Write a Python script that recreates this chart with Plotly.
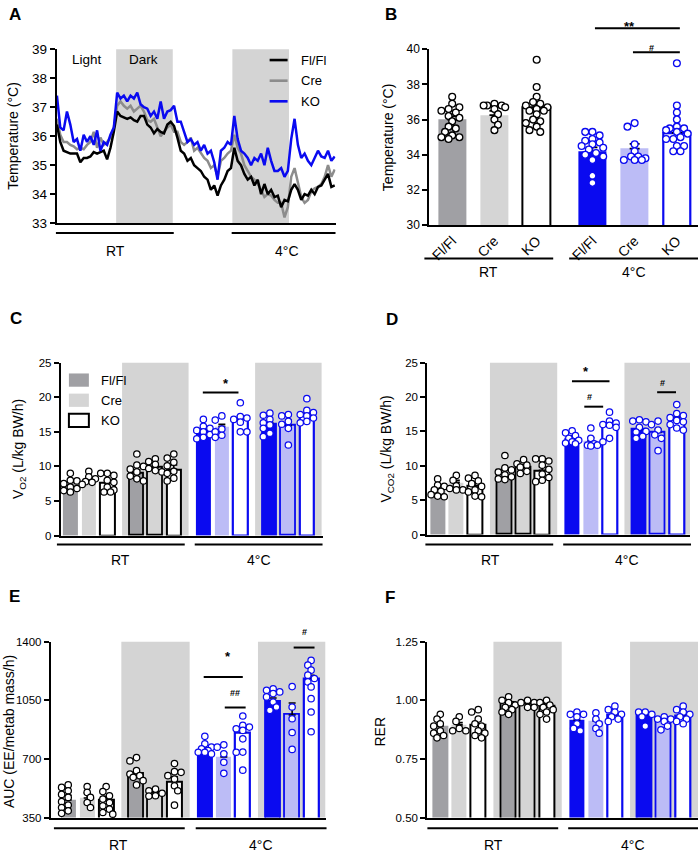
import plotly.graph_objects as go
import numpy as np

W, H = 700, 856
FONT = "Liberation Sans, Arial, Helvetica, sans-serif"
BLUE = "#0a0af0"
LBLUE = "#bcbcf6"
DGRAY = "#a0a0a4"
LGRAY = "#d5d5d5"
SHADE = "#d4d4d4"
GRAYLINE = "#8c8c8c"

# ---------------- data ----------------
genotypes = ["Fl/Fl", "Cre", "KO"]
conditions = ["RT", "4°C"]

# Panel A: core body temperature time course (°C)
a_time_h = np.linspace(0, 58.9, 84)
a_temp_flfl = [36.4, 35.8, 35.5, 35.45, 35.4, 35.4, 35.4, 35.1, 35.25, 35.25,
               35.3, 35.45, 35.4, 35.45, 35.5, 35.2, 35.6, 36.15, 36.85, 36.7,
               36.65, 36.6, 36.65, 36.55, 36.5, 36.7, 36.7, 36.4, 36.3, 36.1,
               36.25, 36.15, 36.1, 36.4, 36.5, 36.35, 35.95, 35.5, 35.4, 35.15,
               35.25, 35.0, 34.9, 34.8, 34.6, 34.5, 34.15, 34.3, 33.95, 34.3,
               34.5, 34.8, 34.9, 35.6, 35.15, 35.0, 34.7, 34.5, 34.6, 34.3,
               34.5, 34.0, 34.35, 34.0, 34.15, 33.9, 33.95, 33.55, 33.8, 33.75,
               34.15, 34.35, 34.15, 33.8, 34.0, 33.95, 34.15, 34.0, 34.25, 34.3,
               34.5, 34.7, 34.25, 34.3]
a_temp_cre = [36.6, 36.05, 35.8, 35.8, 35.7, 35.65, 35.55, 35.6, 35.55, 35.7,
              35.8, 36.15, 35.6, 35.95, 35.7, 35.8, 35.95, 36.3, 37.05, 37.2,
              37.05, 36.95, 37.05, 36.85, 36.95, 37.05, 36.85, 36.55, 36.5, 36.6,
              36.3, 36.0, 36.15, 36.3, 36.4, 36.15, 36.15, 35.8, 35.7, 35.8,
              35.95, 35.5, 35.6, 35.4, 35.25, 35.15, 34.9, 35.0, 34.6, 35.15,
              35.25, 35.4, 35.5, 36.05, 35.6, 35.4, 35.0, 34.8, 34.6, 34.5,
              34.35, 34.15, 33.9, 34.0, 33.95, 33.8, 33.7, 33.7, 33.2, 33.55,
              34.6, 34.9, 34.35, 33.9, 33.7, 33.8, 34.1, 34.2, 34.25, 34.35,
              34.6, 35.0, 34.6, 34.85]
a_temp_ko = [37.4, 36.3, 36.2, 36.85, 36.4, 35.8, 35.9, 35.5, 36.05, 35.8,
             36.0, 35.7, 36.2, 35.5, 35.8, 35.7, 36.05, 36.3, 37.5, 37.3,
             37.4, 37.2, 37.4, 37.3, 37.5, 37.1, 37.0, 36.95, 36.7, 36.85,
             36.6, 37.2, 36.6, 36.85, 36.9, 37.05, 36.5, 36.5, 36.15, 35.8,
             35.9, 35.7, 35.8, 35.5, 35.7, 35.4, 35.5, 35.1, 34.5, 35.5,
             35.6, 35.8, 35.7, 36.7, 35.9, 35.5, 35.4, 35.25, 35.0, 35.25,
             35.15, 35.4, 35.0, 35.6, 35.15, 34.8, 34.8, 34.9, 34.6, 34.8,
             35.9, 36.6, 35.7, 35.25, 35.4, 35.15, 35.0, 35.25, 35.5, 35.3,
             35.25, 35.5, 35.15, 35.3]
a_dark_periods_h = [(12.56, 24.56), (37.2, 49.2)]

# Panel B: temperature (°C), order RT Fl/Fl, Cre, KO, 4°C Fl/Fl, Cre, KO
b_mean = [36.0, 36.25, 36.7, 34.2, 34.35, 35.25]
b_sem = [0.18, 0.25, 0.15, 0.22, 0.27, 0.33]
b_dots = [
    [37.3, 36.9, 36.7, 36.6, 36.5, 36.4, 36.2, 36.1, 35.9, 35.6, 35.5, 35.3, 35.1, 35.0, 35.0, 34.9],
    [36.9, 36.8, 36.8, 36.8, 36.7, 36.6, 36.3, 36.0, 35.7, 35.4],
    [39.4, 37.85, 37.3, 37.0, 36.9, 36.8, 36.7, 36.6, 36.5, 36.5, 36.3, 36.0, 35.9, 35.8, 35.6, 35.4, 35.3],
    [35.3, 35.3, 35.1, 34.9, 34.8, 34.7, 34.6, 34.5, 34.4, 34.3, 34.1, 34.0, 33.9, 33.7, 32.8, 32.4],
    [35.8, 35.6, 34.6, 34.2, 33.9, 33.9, 33.8, 33.7, 33.7, 33.7],
    [39.2, 36.8, 36.4, 36.0, 35.6, 35.5, 35.5, 35.4, 35.3, 35.2, 35.0, 34.9, 34.9, 34.5, 34.5, 34.2, 34.2],
]

# Panels C-F: 12 bars = [RT light, RT dark, 4°C light, 4°C dark] x [Fl/Fl, Cre, KO]
c_mean = [7.7, 8.2, 7.6, 8.9, 9.85, 9.6, 15.3, 15.8, 16.9, 16.0, 15.9, 17.3]
c_sem = [0.4, 0.3, 0.4, 0.6, 0.35, 0.6, 0.3, 0.3, 0.4, 0.3, 0.8, 0.4]
c_dots = [
    [9.0, 8.0, 7.9, 7.5, 7.0, 6.8, 6.5, 6.3],
    [9.3, 8.5, 8.2, 7.8, 7.7, 7.4],
    [9.0, 9.0, 8.7, 8.0, 7.7, 7.0, 6.6, 6.3, 6.3],
    [11.8, 10.2, 10.0, 9.6, 9.2, 8.6, 8.2, 7.9],
    [11.1, 10.7, 10.3, 9.7, 9.4, 9.2],
    [11.8, 11.2, 10.6, 10.1, 9.3, 9.0, 8.3, 7.9],
    [16.8, 15.8, 15.5, 15.2, 15.0, 14.6, 14.2, 14.0],
    [17.3, 16.7, 15.4, 15.0, 14.5, 14.2],
    [19.2, 17.2, 17.0, 16.8, 16.4, 15.0, 15.0],
    [17.7, 17.4, 16.8, 16.3, 16.0, 15.5, 14.8, 14.3],
    [17.5, 17.3, 16.5, 16.1, 15.5, 13.1],
    [19.8, 18.1, 17.8, 17.5, 17.3, 17.0, 16.5, 16.3],
]
d_mean = [6.7, 7.6, 7.1, 9.35, 9.7, 9.35, 14.1, 13.65, 16.0, 15.3, 14.85, 16.75]
d_sem = [0.35, 0.3, 0.4, 0.35, 0.45, 0.5, 0.25, 0.45, 0.35, 0.35, 0.45, 0.35]
d_dots = [
    [8.1, 7.2, 7.0, 6.5, 6.3, 5.8, 5.6, 5.5],
    [8.6, 7.9, 7.1, 6.7, 6.5, 6.5],
    [8.6, 8.2, 7.8, 7.4, 7.0, 6.5, 6.2, 5.6, 5.5],
    [11.5, 9.7, 9.4, 9.1, 8.7, 8.4, 8.1, 8.0],
    [10.9, 10.3, 10.1, 9.8, 9.2, 8.9],
    [11.0, 11.0, 10.7, 10.1, 9.5, 8.8, 8.3, 7.9, 7.7],
    [15.1, 14.8, 14.4, 14.0, 13.7, 13.5, 13.3, 13.2],
    [15.5, 14.0, 13.2, 13.0, 13.0, 12.9],
    [17.8, 16.5, 16.2, 16.0, 15.9, 15.6, 14.0, 13.5],
    [16.7, 16.5, 16.4, 15.6, 15.0, 14.9, 14.3, 14.0],
    [16.5, 16.0, 15.2, 14.5, 14.0, 12.2],
    [18.9, 17.6, 17.3, 17.0, 16.6, 16.4, 16.0, 15.5, 15.2],
]
e_mean = [455, 467, 457, 614, 497, 565, 755, 712, 858, 1044, 962, 1181]
e_sem = [28, 30, 20, 23, 9, 29, 10, 23, 20, 20, 72, 19]
e_dots = [
    [545, 530, 510, 488, 470, 445, 425, 410, 390, 375],
    [535, 500, 470, 440, 410],
    [535, 505, 480, 460, 440, 420, 400, 380, 370],
    [708, 688, 630, 610, 600, 590, 570, 545],
    [520, 510, 495, 480, 478],
    [672, 624, 620, 600, 580, 540, 510, 424],
    [835, 790, 770, 760, 750, 740, 740, 730],
    [784, 770, 731, 680, 614],
    [956, 900, 890, 880, 870, 820, 741, 740, 633],
    [1118, 1110, 1100, 1090, 1070, 1040, 1010, 990],
    [1132, 1010, 940, 858, 757],
    [1288, 1260, 1230, 1200, 1180, 1160, 1130, 1060, 980, 862],
]
f_mean = [0.891, 0.895, 0.898, 0.989, 0.985, 0.975, 0.916, 0.912, 0.937, 0.94, 0.923, 0.933]
f_sem = [0.01, 0.01, 0.014, 0.008, 0.01, 0.013, 0.015, 0.004, 0.007, 0.007, 0.006, 0.02]
f_dots = [
    [0.94, 0.92, 0.90, 0.89, 0.87, 0.86, 0.85, 0.84],
    [0.93, 0.91, 0.88, 0.87, 0.87],
    [0.96, 0.95, 0.92, 0.90, 0.89, 0.87, 0.86, 0.85, 0.84],
    [1.015, 1.00, 0.99, 0.98, 0.97, 0.96, 0.95, 0.94],
    [1.00, 0.99, 0.99, 0.97, 0.97],
    [1.00, 0.99, 0.98, 0.97, 0.96, 0.95, 0.94, 0.92],
    [0.95, 0.94, 0.94, 0.93, 0.90, 0.88, 0.87],
    [0.947, 0.92, 0.90, 0.88, 0.86],
    [0.975, 0.96, 0.95, 0.94, 0.93, 0.92, 0.91],
    [0.95, 0.95, 0.94, 0.93, 0.89],
    [0.93, 0.92, 0.92, 0.91, 0.89, 0.874],
    [0.975, 0.96, 0.95, 0.94, 0.93, 0.92, 0.91, 0.90],
]

# ---------------- figure ----------------
fig = go.Figure()
GEOM = {}


def ax_names(i):
    s = "" if i == 1 else str(i)
    return "x" + s, "y" + s, "xaxis" + s, "yaxis" + s


def set_axes(i, xd, yd, xr, yr, yticks, ytext=None, tickfont=11.5):
    GEOM[i] = (xd, yd, xr, yr)
    xa, ya, xn, yn = ax_names(i)
    fig.layout[xn] = dict(domain=[xd[0] / W, xd[1] / W], range=xr, anchor=ya,
                          showline=True, linecolor="black", linewidth=2.2,
                          showgrid=False, zeroline=False, ticks="",
                          showticklabels=False, fixedrange=True)
    fig.layout[yn] = dict(domain=[1 - yd[1] / H, 1 - yd[0] / H], range=yr, anchor=xa,
                          showline=True, linecolor="black", linewidth=2.2,
                          showgrid=False, zeroline=False, ticks="outside",
                          ticklen=5, tickwidth=1.6, tickcolor="black",
                          tickvals=yticks, ticktext=ytext,
                          tickfont=dict(size=tickfont, family=FONT, color="black"),
                          fixedrange=True)


def d2p(i, x, y):
    """data coordinates of panel i -> paper coordinates"""
    xd, yd, xr, yr = GEOM[i]
    xp = xd[0] + (x - xr[0]) / (xr[1] - xr[0]) * (xd[1] - xd[0])
    yp = yd[1] - (y - yr[0]) / (yr[1] - yr[0]) * (yd[1] - yd[0])
    return xp / W, 1 - yp / H


def ann(text, x, y, size=14, bold=False, angle=0, xanchor="center", yanchor="middle"):
    if bold:
        text = "<b>" + text + "</b>"
    fig.add_annotation(text=text, x=x / W, y=1 - y / H, xref="paper", yref="paper",
                       showarrow=False, textangle=angle, xanchor=xanchor, yanchor=yanchor,
                       font=dict(size=size, family=FONT, color="black"))


def hline_px(x0, x1, y, width=2):
    fig.add_shape(type="line", xref="paper", yref="paper", x0=x0 / W, x1=x1 / W,
                  y0=1 - y / H, y1=1 - y / H, line=dict(color="black", width=width))


def swarm(vals, center, xu, yu, d, maxoff):
    vals = list(vals)
    order = sorted(range(len(vals)), key=lambda k: -vals[k])
    step = d * 0.5
    cands = [0.0]
    k = 1
    while k * step <= maxoff + 1e-9:
        cands += [k * step, -k * step]
        k += 1
    placed = []
    xs = [0.0] * len(vals)
    flip = 1
    for i in order:
        y = vals[i] * yu
        best, bestd = None, -1
        cc = cands if flip > 0 else [cands[0]] + [c * -1 for c in cands[1:]]
        for off in cc:
            md = min([np.hypot(off - px, y - py) for px, py in placed] + [99])
            if md >= d * 0.85:
                best = off
                break
            if md > bestd:
                best, bestd = off, md
        flip = -flip
        placed.append((best, y))
        xs[i] = center + best / xu
    return xs


def sig(i, x0, x1, y, text, ty, size):
    p0 = d2p(i, x0, y)
    p1 = d2p(i, x1, y)
    fig.add_shape(type="line", xref="paper", yref="paper", x0=p0[0], x1=p1[0],
                  y0=p0[1], y1=p1[1], line=dict(color="black", width=2))
    pt = d2p(i, (x0 + x1) / 2, ty)
    fig.add_annotation(x=pt[0], y=pt[1], xref="paper", yref="paper", text="<b>" + text + "</b>",
                       showarrow=False, font=dict(size=size, family=FONT, color="black"))


# ---------- Panel A ----------
A_xd, A_yd = (56, 335), (43, 220)
A_xr, A_yr = [0, 59.07], [33, 39]
set_axes(1, A_xd, A_yd, A_xr, A_yr, list(range(33, 40)), tickfont=13.5)
for (t0, t1) in a_dark_periods_h:
    fig.add_shape(type="rect", xref="x", yref="y domain", x0=t0, x1=t1, y0=0, y1=1,
                  fillcolor=SHADE, line=dict(width=0), layer="below")
for series, col in [(a_temp_cre, GRAYLINE), (a_temp_flfl, "black"), (a_temp_ko, BLUE)]:
    fig.add_trace(go.Scatter(x=a_time_h, y=series, mode="lines", xaxis="x", yaxis="y",
                             line=dict(color=col, width=2.5), hoverinfo="skip"))
ann("Light", 86, 53, size=13.5)
ann("Dark", 143, 53, size=13.5)
for k, (name, col) in enumerate(zip(genotypes, ["black", GRAYLINE, BLUE])):
    yy = 54 + k * 21
    fig.add_shape(type="line", xref="paper", yref="paper", x0=269 / W, x1=287 / W,
                  y0=1 - yy / H, y1=1 - yy / H, line=dict(color=col, width=2.6))
    ann(name, 298, yy, size=13, xanchor="left")
ann("Temperature (°C)", 12, 131, size=14, angle=-90)
hline_px(55, 173, 230)
hline_px(231, 335, 230)
ann("RT", 115, 248, size=14)
ann("4°C", 286, 248, size=14)
ann("A", 14, 8, size=17, bold=True)

# ---------- Panel B ----------
B_xd, B_yd = (429, 698), (43, 222)
B_xr, B_yr = [-0.54, 5.82], [30, 40]
b_pos = [0, 1, 2, 3.32, 4.32, 5.32]
set_axes(2, B_xd, B_yd, B_xr, B_yr, list(range(30, 41, 2)), tickfont=12)
fig.layout.xaxis2.update(showticklabels=True, tickvals=b_pos, ticktext=genotypes * 2,
                         tickangle=-45, tickfont=dict(size=14, family=FONT, color="black"))
b_fill = [DGRAY, LGRAY, "white", BLUE, LBLUE, "white"]
b_lw = [0, 0, 2, 0, 0, 2.2]
b_lc = ["black", "black", "black", BLUE, BLUE, BLUE]
fig.add_trace(go.Bar(x=b_pos, y=b_mean, width=0.66, xaxis="x2", yaxis="y2",
                     marker=dict(color=b_fill, line=dict(color=b_lc, width=b_lw)),
                     error_y=dict(type="data", array=b_sem, arrayminus=[0] * 6, symmetric=False,
                                  color="black", thickness=1.7, width=5),
                     hoverinfo="skip"))
bxu = (B_xd[1] - B_xd[0]) / (B_xr[1] - B_xr[0])
byu = (B_yd[1] - B_yd[0]) / (B_yr[1] - B_yr[0])
for k in range(6):
    xs = swarm(b_dots[k], b_pos[k], bxu, byu, d=7.2, maxoff=14)
    fig.add_trace(go.Scatter(x=xs, y=b_dots[k], mode="markers", xaxis="x2", yaxis="y2",
                             marker=dict(size=6.8, color="white",
                                         line=dict(color="black" if k < 3 else BLUE, width=1.3)),
                             hoverinfo="skip", cliponaxis=False))
sig(2, 3.38, 5.39, 41.2, "**", 41.85, 13)
sig(2, 4.28, 5.39, 39.83, "#", 40.45, 9)
ann("Temperature (°C)", 387, 132, size=14, angle=-90)
hline_px(424, 553, 256)
hline_px(569, 698, 256)
ann("RT", 488, 270, size=14)
ann("4°C", 634, 270, size=14)
ann("B", 391, 8, size=17, bold=True)

# ---------- Panels C-F ----------
pos12 = [3.6 * g + b for g in range(4) for b in range(3)]
fill12 = [DGRAY, LGRAY, "white"] * 2 + [BLUE, LBLUE, "white"] * 2
lw12 = [0, 0, 2, 1.8, 1.8, 2, 0, 0, 2.2, 1.8, 1.8, 2.2]
lc12 = ["black"] * 6 + [BLUE] * 6


def bar_panel(i, xd, yd, xr, yr, yticks, ytext, mean, sem, dots):
    set_axes(i, xd, yd, xr, yr, yticks, ytext, tickfont=11.5)
    xa, ya, _, _ = ax_names(i)
    for g in (1, 3):
        c = 3.6 * g + 1
        fig.add_shape(type="rect", xref=xa, yref=ya + " domain", x0=c - 1.8,
                      x1=min(c + 1.8, xr[1]), y0=0, y1=1, fillcolor=SHADE,
                      line=dict(width=0), layer="below")
    fig.add_trace(go.Bar(x=pos12, y=mean, width=0.8, xaxis=xa, yaxis=ya,
                         marker=dict(color=fill12, line=dict(color=lc12, width=lw12)),
                         error_y=dict(type="data", array=sem, arrayminus=[0] * 12,
                                      symmetric=False, color="black", thickness=1.6, width=3.5),
                         hoverinfo="skip"))
    xu = (xd[1] - xd[0]) / (xr[1] - xr[0])
    yu = (yd[1] - yd[0]) / (yr[1] - yr[0])
    for k in range(12):
        xs = swarm(dots[k], pos12[k], xu, yu, d=6.6, maxoff=7.5)
        fig.add_trace(go.Scatter(x=xs, y=dots[k], mode="markers", xaxis=xa, yaxis=ya,
                                 marker=dict(size=6.4, color="white",
                                             line=dict(color="black" if k < 6 else BLUE, width=1.25)),
                                 hoverinfo="skip", cliponaxis=False))


# C
bar_panel(3, (60, 322), (362, 538), [-0.51, 13.65], [0, 25], [0, 5, 10, 15, 20, 25], None,
          c_mean, c_sem, c_dots)
sig(3, 7.17, 9.1, 20.7, "*", 22.0, 13)
for k, (name, fc) in enumerate(zip(genotypes, [DGRAY, LGRAY, "white"])):
    y0 = 373 + k * 20.5
    fig.add_shape(type="rect", xref="paper", yref="paper", x0=68 / W, x1=88 / W,
                  y0=1 - y0 / H, y1=1 - (y0 + 13.5) / H, fillcolor=fc,
                  line=dict(color="black", width=2 if k == 2 else 0))
    ann(name, 98, y0 + 7, size=13, xanchor="left")
ann("V<sub>O2</sub> (L/kg BW/h)", 18, 450, size=14, angle=-90)
hline_px(56, 184, 547)
hline_px(194, 322, 547)
ann("RT", 120, 563, size=14)
ann("4°C", 258, 563, size=14)
ann("C", 15, 317, size=17, bold=True)

# D
bar_panel(4, (427, 690), (362, 537), [-0.55, 13.51], [0, 25], [0, 5, 10, 15, 20, 25], None,
          d_mean, d_sem, d_dots)
sig(4, 7.19, 9.2, 22.3, "*", 23.7, 13)
sig(4, 7.85, 8.86, 18.6, "#", 20.0, 9)
sig(4, 11.75, 12.76, 20.7, "#", 22.0, 9)
ann("V<sub>CO2</sub> (L/kg BW/h)", 387, 450, size=14, angle=-90)
hline_px(425, 553, 547)
hline_px(563, 691, 547)
ann("RT", 490, 563, size=14)
ann("4°C", 627, 563, size=14)
ann("D", 392, 318, size=17, bold=True)

# E
bar_panel(5, (50, 325), (646, 825), [-0.91, 13.56], [350, 1400], [350, 700, 1050, 1400],
          ["350", "700", "1050", "1400"], e_mean, e_sem, e_dots)
sig(5, 7.14, 9.2, 1189, "*", 1255, 13)
sig(5, 8.25, 9.35, 1007, "##", 1050, 9)
sig(5, 11.88, 12.98, 1365, "#", 1415, 9)
ann("AUC (EE/metab mass/h)", 8, 737, size=14, angle=-90)
hline_px(53, 184, 836)
hline_px(195, 326, 836)
ann("RT", 118, 853, size=14)
ann("4°C", 260, 853, size=14)
ann("E", 14, 600, size=17, bold=True)

# F
bar_panel(6, (427, 698), (646, 825), [-0.68, 13.58], [0.5, 1.25], [0.5, 0.75, 1.0, 1.25],
          ["0.50", "0.75", "1.00", "1.25"], f_mean, f_sem, f_dots)
ann("RER", 380, 737, size=14, angle=-90)
hline_px(427, 558, 836)
hline_px(568, 698, 836)
ann("RT", 493, 853, size=14)
ann("4°C", 633, 853, size=14)
ann("F", 390, 601, size=17, bold=True)

fig.update_layout(width=W, height=H, margin=dict(l=0, r=0, t=0, b=0),
                  plot_bgcolor="white", paper_bgcolor="white", showlegend=False,
                  bargap=0, font=dict(family=FONT, color="black"))

fig.write_html("out.html")
